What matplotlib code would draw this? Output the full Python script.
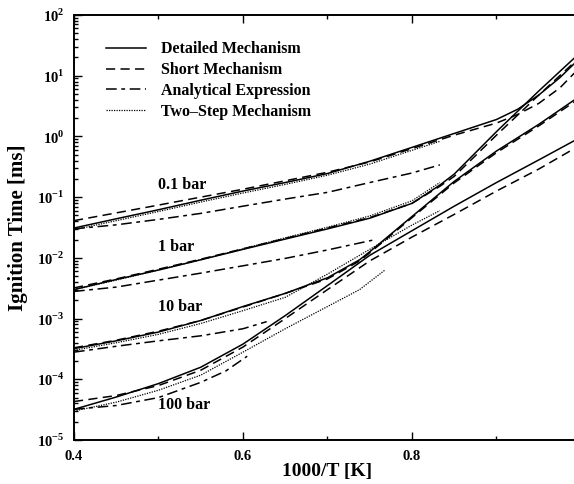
"""
Ignition time vs 1000/T for H2-air at 0.1, 1, 10 and 100 bar:
detailed / short mechanism, analytical expression and two-step mechanism.
"""
import math
import matplotlib
matplotlib.use("Agg")
import matplotlib.pyplot as plt
from matplotlib.ticker import FixedLocator, FuncFormatter, LogLocator, NullFormatter
from matplotlib.lines import Line2D

OUT = "out.png"

# abscissa grids (1000/T)
X_FULL = [0.40, 0.45, 0.50, 0.55, 0.60, 0.65, 0.70, 0.75, 0.80, 0.85, 0.90, 0.925, 0.95, 0.975, 0.992]
X_MID = [0.40, 0.45, 0.50, 0.55, 0.60, 0.65, 0.70, 0.738, 0.75, 0.80, 0.85, 0.90, 0.95, 0.992]

# ---- 0.1 bar (ms)
P01_DETAILED = [0.031, 0.044, 0.062, 0.089, 0.126, 0.174, 0.245, 0.39, 0.66, 1.12, 1.9, 2.8, 4.8, 9.3, 15.8]
P01_SHORT = [0.041, 0.055, 0.074, 0.10, 0.135, 0.186, 0.257, 0.38, 0.63, 1.05, 1.66, 2.3, 3.5, 6.3, 11.0]
P01_TWOSTEP_X = [0.40, 0.45, 0.50, 0.55, 0.60, 0.65, 0.70, 0.75, 0.80, 0.833]
P01_TWOSTEP = [0.029, 0.041, 0.058, 0.083, 0.117, 0.162, 0.23, 0.35, 0.59, 0.83]
P01_ANALYT_X = [0.40, 0.45, 0.50, 0.55, 0.60, 0.65, 0.70, 0.75, 0.80, 0.833]
P01_ANALYT = [0.030, 0.035, 0.043, 0.054, 0.071, 0.093, 0.12, 0.174, 0.25, 0.34]

# ---- 1 bar (ms)
P1_X = [0.40, 0.45, 0.50, 0.55, 0.60, 0.65, 0.70, 0.75, 0.80, 0.833, 0.85, 0.90, 0.95, 0.992]
P1_DETAILED = [0.0030, 0.0044, 0.0063, 0.0093, 0.0138, 0.0204, 0.030, 0.045, 0.079, 0.158, 0.24, 1.2, 5.6, 19.5]
P1_SHORT = [0.0032, 0.0045, 0.0065, 0.0095, 0.0141, 0.0209, 0.031, 0.046, 0.079, 0.151, 0.22, 1.05, 4.8, 16.6]
P1_TWOSTEP_X = [0.40, 0.45, 0.50, 0.55, 0.60, 0.65, 0.70, 0.75, 0.80, 0.833]
P1_TWOSTEP = [0.0030, 0.0043, 0.0063, 0.0093, 0.0141, 0.0214, 0.032, 0.049, 0.087, 0.174]
P1_ANALYT_X = [0.40, 0.45, 0.50, 0.55, 0.60, 0.65, 0.70, 0.753]
P1_ANALYT = [0.0028, 0.0033, 0.0043, 0.0056, 0.0074, 0.0098, 0.0135, 0.0195]

# ---- 10 bar (ms)
P10_DETAILED = [3.2e-4, 4.3e-4, 6.0e-4, 9.3e-4, 1.58e-3, 2.6e-3, 4.7e-3, 9.3e-3, 0.0126, 0.048, 0.182, 0.575, 1.58, 3.98]
P10_SHORT = [3.3e-4, 4.4e-4, 6.2e-4, 9.3e-4, 1.55e-3, 2.6e-3, 4.5e-3, 8.9e-3, 0.0121, 0.046, 0.172, 0.54, 1.49, 3.7]
P10_TWOSTEP_X = [0.40, 0.45, 0.50, 0.55, 0.60, 0.65, 0.70, 0.75, 0.80, 0.833]
P10_TWOSTEP = [3.0e-4, 4.0e-4, 5.5e-4, 8.3e-4, 1.35e-3, 2.24e-3, 5.4e-3, 0.0138, 0.0347, 0.060]
P10_ANALYT_X = [0.40, 0.45, 0.50, 0.55, 0.60, 0.628]
P10_ANALYT = [2.8e-4, 3.5e-4, 4.3e-4, 5.2e-4, 6.8e-4, 8.9e-4]

# ---- 100 bar (ms)
P100_X = [0.40, 0.45, 0.50, 0.55, 0.60, 0.65, 0.70, 0.75, 0.80, 0.85, 0.90, 0.95, 0.992]
P100_DETAILED = [3.2e-5, 5.1e-5, 8.5e-5, 1.58e-4, 3.8e-4, 1.12e-3, 3.5e-3, 0.011, 0.028, 0.071, 0.174, 0.41, 0.85]
P100_SHORT = [4.3e-5, 5.4e-5, 7.9e-5, 1.41e-4, 3.4e-4, 1.0e-3, 3.0e-3, 8.9e-3, 0.022, 0.052, 0.126, 0.29, 0.63]
P100_TWOSTEP_X = [0.40, 0.45, 0.50, 0.55, 0.60, 0.65, 0.70, 0.738, 0.768]
P100_TWOSTEP = [3.0e-5, 4.2e-5, 6.6e-5, 1.17e-4, 2.8e-4, 6.8e-4, 1.58e-3, 3.0e-3, 6.3e-3]
P100_ANALYT_X = [0.40, 0.45, 0.50, 0.55, 0.58, 0.605]
P100_ANALYT = [3.2e-5, 3.7e-5, 5.0e-5, 8.9e-5, 1.38e-4, 2.4e-4]

PRESSURE_LABELS = ["0.1 bar", "1 bar", "10 bar", "100 bar"]
LABEL_X = [0.5, 0.5, 0.5, 0.5]
LABEL_Y = [0.16, 0.0152, 1.55e-3, 3.8e-5]

Y_DECADES = [1e-5, 1e-4, 1e-3, 1e-2, 1e-1, 1e0, 1e1, 1e2]

LEGEND_NAMES = ["Detailed Mechanism", "Short Mechanism", "Analytical Expression", "Two\u2013Step Mechanism"]

STYLE = {
    "detailed": dict(color="black", lw=1.1, ls="-"),
    "short": dict(color="black", lw=1.1, ls=(0, (6, 3.5))),
    "analyt": dict(color="black", lw=1.1, ls=(0, (7, 3, 2.5, 3))),
    "twostep": dict(color="black", lw=0.9, ls=(0, (1, 1))),
}

plt.rcParams["font.family"] = ["Liberation Serif", "DejaVu Serif"]
plt.rcParams["font.weight"] = "bold"
plt.rcParams["mathtext.fontset"] = "custom"
plt.rcParams["mathtext.rm"] = "Liberation Serif:bold"
plt.rcParams["mathtext.bf"] = "Liberation Serif:bold"

fig = plt.figure(figsize=(5.74, 4.84), dpi=100)
ax = fig.add_axes([74 / 574, 44 / 484, 507 / 574, 425 / 484])

curves = [
    (X_FULL, P01_DETAILED, "detailed"), (X_FULL, P01_SHORT, "short"),
    (P01_TWOSTEP_X, P01_TWOSTEP, "twostep"), (P01_ANALYT_X, P01_ANALYT, "analyt"),
    (P1_X, P1_DETAILED, "detailed"), (P1_X, P1_SHORT, "short"),
    (P1_TWOSTEP_X, P1_TWOSTEP, "twostep"), (P1_ANALYT_X, P1_ANALYT, "analyt"),
    (X_MID, P10_DETAILED, "detailed"), (X_MID, P10_SHORT, "short"),
    (P10_TWOSTEP_X, P10_TWOSTEP, "twostep"), (P10_ANALYT_X, P10_ANALYT, "analyt"),
    (P100_X, P100_DETAILED, "detailed"), (P100_X, P100_SHORT, "short"),
    (P100_TWOSTEP_X, P100_TWOSTEP, "twostep"), (P100_ANALYT_X, P100_ANALYT, "analyt"),
]
for xs, ys, kind in curves:
    ax.plot(xs, ys, solid_joinstyle="round", **STYLE[kind])

ax.set_yscale("log")
ax.set_xlim(0.4, 1.0)
ax.set_ylim(1e-5, 1e2)

ax.xaxis.set_major_locator(FixedLocator([0.4, 0.6, 0.8]))
ax.xaxis.set_minor_locator(FixedLocator([0.5, 0.7, 0.9]))
ax.xaxis.set_major_formatter(FuncFormatter(lambda v, _: f"{v:.1f}"))
ax.yaxis.set_major_locator(FixedLocator(Y_DECADES))
ax.yaxis.set_minor_locator(LogLocator(base=10, subs=range(2, 10), numticks=20))
ax.yaxis.set_minor_formatter(NullFormatter())
ax.yaxis.set_major_formatter(FuncFormatter(lambda v, _: r"$10^{%d}$" % round(math.log10(v))))

ax.tick_params(which="both", direction="in", top=True, right=False, width=1.0)
ax.tick_params(which="major", length=6, labelsize=10.5, pad=7)
ax.tick_params(which="minor", length=3)
for side in ("left", "bottom", "top"):
    ax.spines[side].set_linewidth(1.4)
ax.spines["right"].set_visible(False)

ax.set_xlabel("1000/T [K]", fontsize=14, fontweight="bold", labelpad=0)
ax.set_ylabel("Ignition Time [ms]", fontsize=15, fontweight="bold", labelpad=6)

for txt, lx, ly in zip(PRESSURE_LABELS, LABEL_X, LABEL_Y):
    ax.text(lx, ly, txt, fontsize=11.5, fontweight="bold", ha="left", va="center")

handles = [Line2D([], [], **STYLE[k]) for k in ("detailed", "short", "analyt", "twostep")]
ax.legend(handles, LEGEND_NAMES, loc="upper left", bbox_to_anchor=(0.064, 0.938),
          frameon=False, handlelength=2.5, handletextpad=0.9,
          labelspacing=0.3, borderpad=0, borderaxespad=0,
          prop=dict(weight="bold", size=11.5))

fig.savefig(OUT, dpi=100)
